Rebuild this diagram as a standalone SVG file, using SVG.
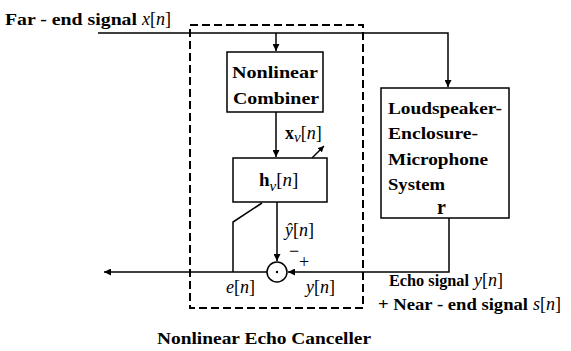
<svg xmlns="http://www.w3.org/2000/svg" width="571" height="351" viewBox="0 0 571 351">
<style>
text{font-family:"Liberation Serif","Times New Roman",serif;fill:#000}
.b{font-weight:bold;font-size:16px}
.m{font-size:18px}
.it{font-style:italic}
.box{fill:#fff;stroke:#000;stroke-width:1.5}
.ln{fill:none;stroke:#000;stroke-width:1.5}
.dash{fill:none;stroke:#000;stroke-width:2;stroke-dasharray:8,4}
</style>
<defs>
<marker id="ah" viewBox="0 0 10 10" refX="10" refY="5" markerWidth="8" markerHeight="7" orient="auto" markerUnits="userSpaceOnUse">
<path d="M0,0L10,5L0,10z" fill="#000"/>
</marker>
<marker id="ahs" viewBox="0 0 10 10" refX="10" refY="5" markerWidth="6" markerHeight="6" orient="auto" markerUnits="userSpaceOnUse">
<path d="M0,0L10,5L0,10z" fill="#000"/>
</marker>
</defs>
<rect width="571" height="351" fill="#fff"/>
<g id="canceller-frame">
<rect class="dash" x="190" y="25" width="173" height="283"/>
<text class="b" x="157" y="344" textLength="214" lengthAdjust="spacingAndGlyphs">Nonlinear Echo Canceller</text>
</g>
<g id="connectors">
<path class="ln" d="M98,33H448V87" marker-end="url(#ah)"/>
<path class="ln" d="M276,33V51" marker-end="url(#ah)"/>
<path class="ln" d="M276,112V157" marker-end="url(#ah)"/>
<path class="ln" d="M277,202V261" marker-end="url(#ah)"/>
<path class="ln" d="M449,218V272H288" marker-end="url(#ah)"/>
<path class="ln" d="M267,272H104" marker-end="url(#ah)"/>
<path class="ln" d="M233,272V222L262,203"/>
<path class="ln" d="M312,158L324,146" marker-end="url(#ahs)"/>
</g>
<g id="far-end-label">
<text class="b" x="5" y="25" textLength="132" lengthAdjust="spacingAndGlyphs">Far - end signal</text>
<text class="m" x="142" y="25"><tspan class="it">x</tspan>[<tspan class="it">n</tspan>]</text>
</g>
<g id="combiner">
<rect class="box" x="227" y="52" width="96" height="60"/>
<text class="b" x="232" y="78" textLength="86" lengthAdjust="spacingAndGlyphs">Nonlinear</text>
<text class="b" x="233" y="104" textLength="86" lengthAdjust="spacingAndGlyphs">Combiner</text>
</g>
<g id="xv-label">
<text x="285" y="139" font-size="18"><tspan font-weight="bold">x</tspan><tspan font-style="italic" font-size="15" dy="3">ν</tspan><tspan dy="-3">[</tspan><tspan font-style="italic">n</tspan>]</text>
</g>
<g id="filter">
<rect class="box" x="233" y="158" width="94" height="44"/>
<text x="259" y="186" font-size="19"><tspan font-weight="bold">h</tspan><tspan font-style="italic" font-size="15" dy="5">ν</tspan><tspan dy="-5">[</tspan><tspan font-style="italic">n</tspan>]</text>
</g>
<g id="yhat-label">
<text class="m" x="285" y="236"><tspan class="it">ŷ</tspan>[<tspan class="it">n</tspan>]</text>
</g>
<g id="summer">
<circle cx="277" cy="272" r="10" fill="#fff" stroke="#000" stroke-width="1.5"/>
<circle cx="277" cy="272" r="1.2" fill="#000"/>
<text x="289" y="257" font-size="18">−</text>
<text x="299" y="268" font-size="18">+</text>
</g>
<g id="e-label">
<text class="m" x="226" y="293"><tspan class="it">e</tspan>[<tspan class="it">n</tspan>]</text>
</g>
<g id="y-label">
<text class="m" x="306" y="293"><tspan class="it">y</tspan>[<tspan class="it">n</tspan>]</text>
</g>
<g id="lems">
<rect class="box" x="381" y="88" width="128" height="130"/>
<text class="b" x="388" y="114" textLength="114" lengthAdjust="spacingAndGlyphs">Loudspeaker-</text>
<text class="b" x="388" y="139" textLength="90" lengthAdjust="spacingAndGlyphs">Enclosure-</text>
<text class="b" x="388" y="165" textLength="100" lengthAdjust="spacingAndGlyphs">Microphone</text>
<text class="b" x="388" y="190" textLength="57" lengthAdjust="spacingAndGlyphs">System</text>
<text x="437" y="214" font-size="20" font-weight="bold">r</text>
</g>
<g id="echo-label">
<text class="b" x="389" y="286" textLength="80" lengthAdjust="spacingAndGlyphs">Echo signal</text>
<text class="m" x="474" y="286"><tspan class="it">y</tspan>[<tspan class="it">n</tspan>]</text>
<text class="b" x="378" y="310" textLength="150" lengthAdjust="spacingAndGlyphs">+ Near - end signal</text>
<text class="m" x="533" y="310"><tspan class="it">s</tspan>[<tspan class="it">n</tspan>]</text>
</g>
</svg>
